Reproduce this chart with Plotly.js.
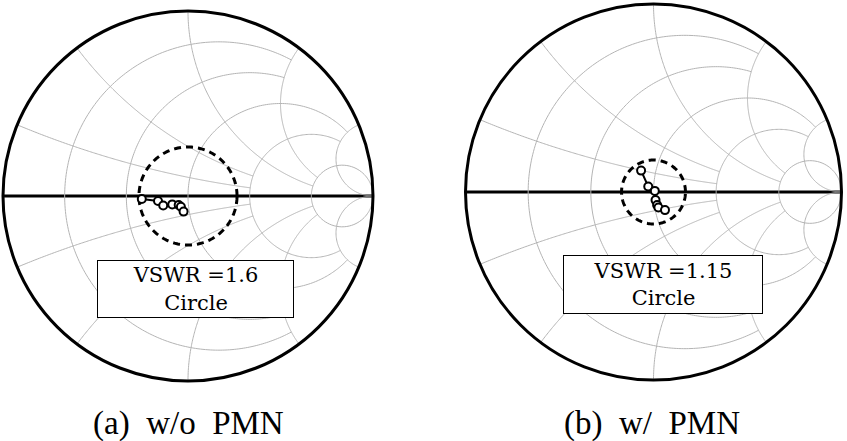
<!DOCTYPE html>
<html>
<head>
<meta charset="utf-8">
<script src="https://cdn.plot.ly/plotly-3.0.1.min.js"></script>
<style>html,body{margin:0;padding:0;background:#fff;}#chart{width:847px;height:441px;}</style>
</head>
<body>
<div id="chart"></div>
<script>
// Normalized impedance (a) without PMN
var realA = [0.60, 0.72, 0.76, 0.84, 0.90, 0.92, 0.94];
var imagA = [-0.02, -0.04, -0.08, -0.077, -0.088, -0.107, -0.16];
// (b) with PMN
var realB = [0.855, 0.944, 1.014, 1.018, 1.029, 1.039, 1.108];
var imagB = [0.198, 0.055, 0.012, -0.088, -0.143, -0.172, -0.216];
// drawn VSWR circle radius (|Gamma|) as seen in each chart
var vswrLabels = ["VSWR =1.6", "VSWR =1.15"];
var vswrGamma = [0.265, 0.17];
var captions = ["(a)\u00a0\u00a0w/o\u00a0\u00a0PMN", "(b)\u00a0\u00a0w/\u00a0\u00a0PMN"];
// Smith grid: resistance circles and reactance arcs, with the extent each is drawn to
var gridR = [0.2, 0.5, 1, 2, 5];
var gridRLimitX = [2, 2, 5, 5, 10000];
var gridX = [0.2, 0.5, 1, 2, 5];
var gridXLimitR = [2, 2, 5, 5, 10000];

function vswrCircle(rho) {
  var re = [], im = [];
  for (var i = 0; i <= 180; i++) {
    var t = 2 * Math.PI * i / 180;
    var gr = rho * Math.cos(t), gi = rho * Math.sin(t);
    var den = (1 - gr) * (1 - gr) + gi * gi;
    re.push((1 - gr * gr - gi * gi) / den);
    im.push(2 * gi / den);
  }
  return {re: re, im: im};
}

var GRID_COLOR = '#b4b4b4';
function gridTraces(sub) {
  var out = [];
  var N = 240;
  gridR.forEach(function (r, k) {
    var lim = Math.asinh(gridRLimitX[k]);
    var re = [], im = [];
    for (var i = 0; i <= N; i++) {
      var u = -lim + 2 * lim * i / N;
      re.push(r); im.push(Math.sinh(u));
    }
    out.push({type: 'scattersmith', subplot: sub, real: re, imag: im, mode: 'lines',
              line: {color: GRID_COLOR, width: 1}, hoverinfo: 'skip'});
  });
  gridX.forEach(function (x, k) {
    var lim = Math.asinh(gridXLimitR[k]);
    [1, -1].forEach(function (s) {
      var re = [], im = [];
      for (var i = 0; i <= N; i++) {
        var u = lim * i / N;
        re.push(Math.sinh(u)); im.push(s * x);
      }
      out.push({type: 'scattersmith', subplot: sub, real: re, imag: im, mode: 'lines',
                line: {color: GRID_COLOR, width: 1}, hoverinfo: 'skip'});
    });
  });
  return out;
}

var cA = vswrCircle(vswrGamma[0]);
var cB = vswrCircle(vswrGamma[1]);

var traces = [].concat(gridTraces('smith'), gridTraces('smith2'), [
  {type: 'scattersmith', subplot: 'smith', real: cA.re, imag: cA.im, mode: 'lines',
   line: {color: 'black', width: 3, dash: '7px,5px'}, hoverinfo: 'skip'},
  {type: 'scattersmith', subplot: 'smith', real: realA, imag: imagA, mode: 'lines+markers',
   line: {color: 'black', width: 2},
   marker: {symbol: 'circle', size: 8, color: 'white', line: {color: 'black', width: 2}}},
  {type: 'scattersmith', subplot: 'smith2', real: cB.re, imag: cB.im, mode: 'lines',
   line: {color: 'black', width: 3, dash: '7px,5px'}, hoverinfo: 'skip'},
  {type: 'scattersmith', subplot: 'smith2', real: realB, imag: imagB, mode: 'lines+markers',
   line: {color: 'black', width: 2},
   marker: {symbol: 'circle', size: 8, color: 'white', line: {color: 'black', width: 2}}}
]);

function smithLayout(dx, dy) {
  return {
    domain: {x: dx, y: dy},
    bgcolor: 'white',
    realaxis: {tickvals: gridR, showticklabels: false, ticks: '', showgrid: false,
               linecolor: 'black', linewidth: 3, showline: true, layer: 'below traces'},
    imaginaryaxis: {tickvals: gridX, showticklabels: false, ticks: '', showgrid: false,
                    linecolor: 'black', linewidth: 3, showline: true, layer: 'above traces'}
  };
}

var boxFont = {family: 'DejaVu Serif', size: 21, color: 'black'};
var capFont = {family: 'Liberation Serif', size: 33, color: 'black'};

var layout = {
  width: 847, height: 441,
  margin: {l: 0, r: 0, t: 0, b: 0},
  paper_bgcolor: 'white',
  showlegend: false,
  smith: smithLayout([3 / 847, 373 / 847], [1 - 381 / 441, 1 - 11 / 441]),
  smith2: smithLayout([465.5 / 847, 841.5 / 847], [1 - 380 / 441, 1 - 4 / 441]),
  annotations: [
    {xref: 'paper', yref: 'paper', x: 195 / 847, y: 1 - 289 / 441, xanchor: 'center', yanchor: 'middle',
     text: vswrLabels[0] + '<br>Circle', showarrow: false, font: boxFont, bgcolor: 'white',
     bordercolor: 'black', borderwidth: 1, borderpad: 0, width: 195, height: 56},
    {xref: 'paper', yref: 'paper', x: 662.5 / 847, y: 1 - 284.5 / 441, xanchor: 'center', yanchor: 'middle',
     text: vswrLabels[1] + '<br>Circle', showarrow: false, font: boxFont, bgcolor: 'white',
     bordercolor: 'black', borderwidth: 1, borderpad: 0, width: 198, height: 57},
    {xref: 'paper', yref: 'paper', x: 188 / 847, y: 1 - 423 / 441, xanchor: 'center', yanchor: 'middle',
     text: captions[0], showarrow: false, font: capFont},
    {xref: 'paper', yref: 'paper', x: 652 / 847, y: 1 - 423 / 441, xanchor: 'center', yanchor: 'middle',
     text: captions[1], showarrow: false, font: capFont}
  ]
};

Plotly.newPlot('chart', traces, layout, {displayModeBar: false, staticPlot: true});
</script>
</body>
</html>
